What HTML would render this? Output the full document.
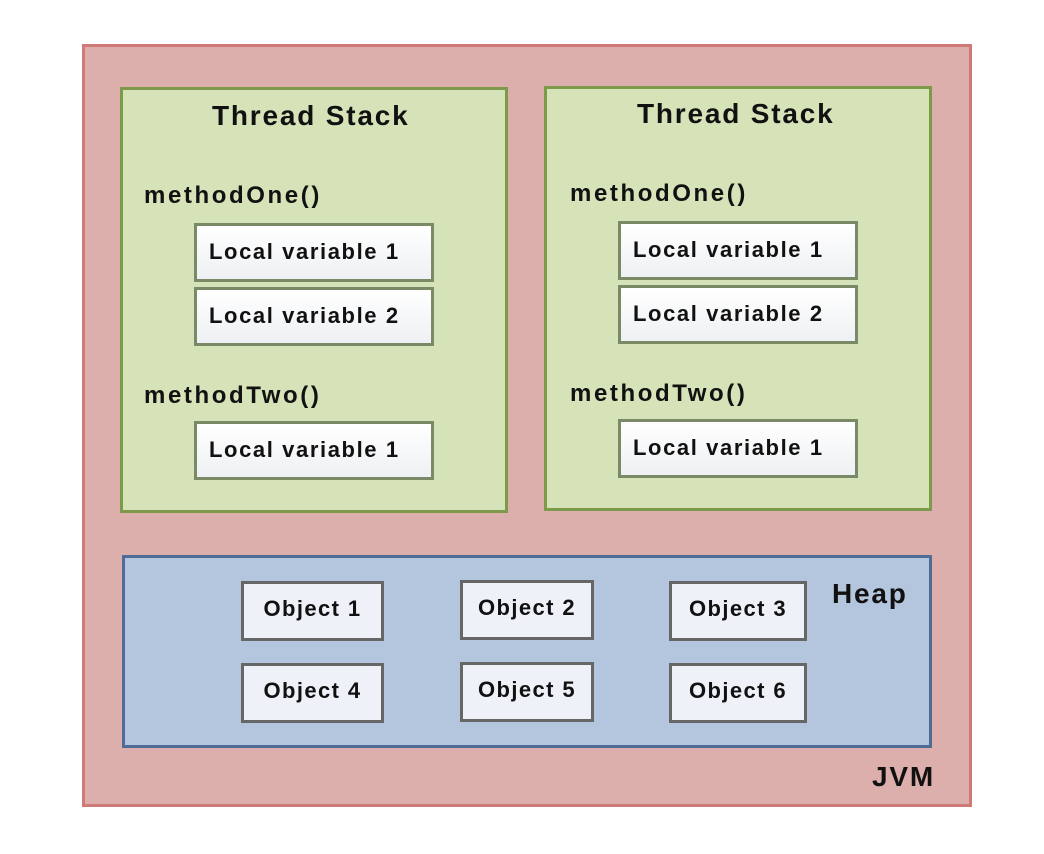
<!DOCTYPE html>
<html><head><style>
body{margin:0;width:1044px;height:854px;background:#fff;position:relative;overflow:hidden;font-family:"Liberation Sans",sans-serif;font-weight:bold;color:#111}
div{position:absolute;box-sizing:border-box;white-space:nowrap}
.jvm{left:82px;top:44px;width:890px;height:763px;background:#dcaeac;border:3px solid #cf7a78}
.ts{background:#d6e2b8;border:3px solid #7d9a4a}
.h{background:#b4c5de;border:3px solid #4e6c96;left:122px;top:555px;width:810px;height:193px}
.lv{width:240px;height:59px;background:linear-gradient(#fff,#eef0f3);border:3px solid #7a8a66;font-size:22px;letter-spacing:1.6px;line-height:51px;padding-left:12px}
.ob{height:60px;background:#eef1f7;border:3px solid #666;font-size:22px;letter-spacing:1.4px;line-height:50px;text-align:center}
.t{font-size:28px;letter-spacing:1.8px}
.m{font-size:24px;letter-spacing:2.6px}
</style></head><body>
<div class="jvm"></div>
<div class="ts" style="left:120px;top:87px;width:388px;height:426px"></div>
<div class="ts" style="left:544px;top:86px;width:388px;height:425px"></div>
<div class="t" style="left:212px;top:100px">Thread Stack</div>
<div class="t" style="left:637px;top:98px">Thread Stack</div>
<div class="m" style="left:144px;top:182px">methodOne()</div>
<div class="m" style="left:144px;top:382px">methodTwo()</div>
<div class="m" style="left:570px;top:180px">methodOne()</div>
<div class="m" style="left:570px;top:380px">methodTwo()</div>
<div class="lv" style="left:194px;top:223px">Local variable 1</div>
<div class="lv" style="left:194px;top:287px">Local variable 2</div>
<div class="lv" style="left:194px;top:421px">Local variable 1</div>
<div class="lv" style="left:618px;top:221px">Local variable 1</div>
<div class="lv" style="left:618px;top:285px">Local variable 2</div>
<div class="lv" style="left:618px;top:419px">Local variable 1</div>
<div class="h"></div>
<div class="t" style="left:832px;top:578px">Heap</div>
<div class="ob" style="left:241px;top:581px;width:143px">Object 1</div>
<div class="ob" style="left:460px;top:580px;width:134px">Object 2</div>
<div class="ob" style="left:669px;top:581px;width:138px">Object 3</div>
<div class="ob" style="left:241px;top:663px;width:143px">Object 4</div>
<div class="ob" style="left:460px;top:662px;width:134px">Object 5</div>
<div class="ob" style="left:669px;top:663px;width:138px">Object 6</div>
<div class="t" style="left:872px;top:761px">JVM</div>
</body></html>
